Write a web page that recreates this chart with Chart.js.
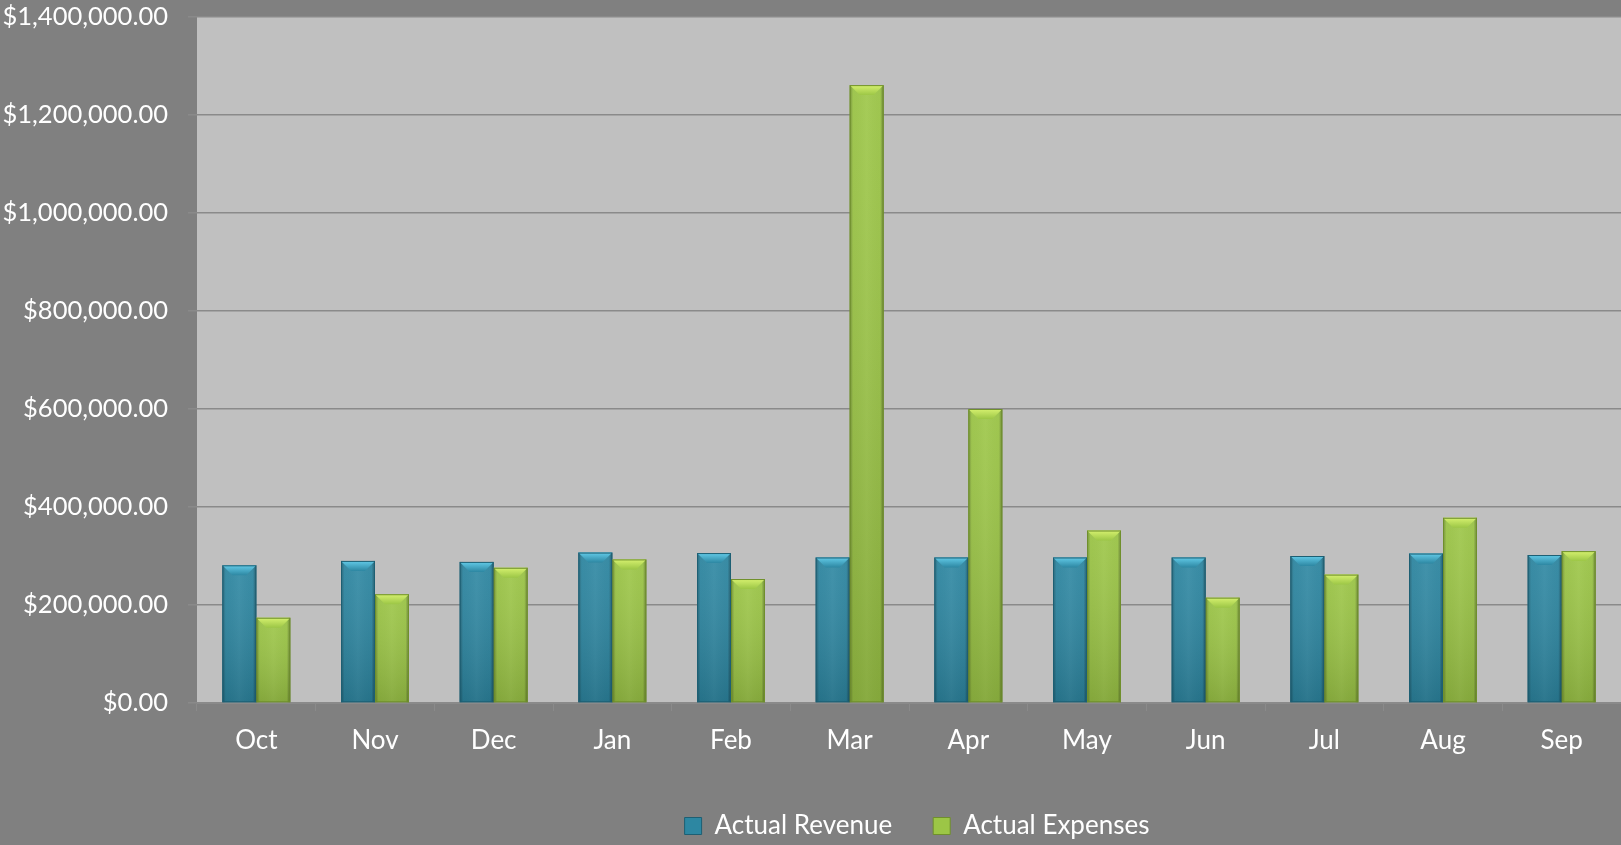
<!DOCTYPE html>
<html>
<head>
<meta charset="utf-8">
<title>Actual Revenue vs Actual Expenses</title>
<script src="https://cdn.jsdelivr.net/npm/chart.js@4/dist/chart.umd.min.js"></script>
<style>
  html, body { margin: 0; padding: 0; background: #808080; }
  #wrap { position: relative; width: 1621px; height: 845px; }
</style>
</head>
<body>
<div id="wrap"><canvas id="revenueChart"></canvas></div>
<script>
const months = ["Oct", "Nov", "Dec", "Jan", "Feb", "Mar", "Apr", "May", "Jun", "Jul", "Aug", "Sep"];
const actualRevenue = [281000, 290000, 288000, 307000, 306000, 297000, 297000, 297000, 297000, 300000, 305000, 302000];
const actualExpenses = [174000, 222000, 276000, 293000, 253000, 1261000, 600000, 352000, 215000, 262000, 378000, 310000];
const yTicks = [0, 200000, 400000, 600000, 800000, 1000000, 1200000, 1400000];

const barColors = ["#2d87a2", "#9cc646"];
const bevelColors = ["#63cbe8", "#d6f16f"];
const edgeColors = ["#1d5f73", "#6f8f2c"];

const money = v => "$" + v.toLocaleString("en-US", { minimumFractionDigits: 2, maximumFractionDigits: 2 });

// grey plot area behind the bars
const plotBackground = {
  id: "plotBackground",
  beforeDraw(chart) {
    const { ctx, chartArea: a } = chart;
    ctx.save();
    ctx.fillStyle = "#c0c0c0";
    ctx.fillRect(a.left, a.top, a.right - a.left, a.bottom - a.top);
    ctx.restore();
  }
};

// shaded sides and bevelled top on every bar
const barBevel = {
  id: "barBevel",
  afterDatasetsDraw(chart) {
    const ctx = chart.ctx;
    ctx.save();
    chart.data.datasets.forEach((ds, i) => {
      chart.getDatasetMeta(i).data.forEach(bar => {
        const { x, y, base, width } = bar.getProps(["x", "y", "base", "width"], true);
        const l = x - width / 2, r = x + width / 2, h = base - y;
        if (h <= 0) return;

        const side = ctx.createLinearGradient(l, 0, r, 0);
        side.addColorStop(0, "rgba(0,0,0,0.30)");
        side.addColorStop(0.1, "rgba(0,0,0,0.02)");
        side.addColorStop(0.5, "rgba(255,255,255,0.04)");
        side.addColorStop(0.9, "rgba(0,0,0,0.02)");
        side.addColorStop(1, "rgba(0,0,0,0.38)");
        ctx.fillStyle = side;
        ctx.fillRect(l, y, width, h);

        const down = ctx.createLinearGradient(0, y, 0, base);
        down.addColorStop(0, "rgba(255,255,255,0.06)");
        down.addColorStop(1, "rgba(0,0,0,0.14)");
        ctx.fillStyle = down;
        ctx.fillRect(l, y, width, h);

        const b = Math.min(10, h / 2);
        const top = ctx.createLinearGradient(0, y, 0, y + b);
        top.addColorStop(0, bevelColors[i]);
        top.addColorStop(1, barColors[i]);
        ctx.fillStyle = top;
        ctx.beginPath();
        ctx.moveTo(l, y);
        ctx.lineTo(r, y);
        ctx.lineTo(r - b, y + b);
        ctx.lineTo(l + b, y + b);
        ctx.closePath();
        ctx.fill();

        ctx.strokeStyle = edgeColors[i];
        ctx.lineWidth = 1;
        ctx.strokeRect(l + 0.5, y + 0.5, width - 1, h - 1);
      });
    });
    ctx.restore();
  }
};

// centre the legend under the plot area (nudged right and down a touch)
const legendUnderPlot = {
  id: "legendUnderPlot",
  afterLayout(chart) {
    const lg = chart.legend, a = chart.chartArea;
    const shift = (a.left + a.right) / 2 - (lg.left + lg.right) / 2 + 8;
    lg.left += shift;
    lg.right += shift;
    lg.top += 4;
    lg.bottom += 4;
  }
};

Chart.defaults.font.family = "Lato, 'Liberation Sans', sans-serif";
Chart.defaults.color = "#ffffff";

new Chart("revenueChart", {
  type: "bar",
  data: {
    labels: months,
    datasets: [
      {
        label: "Actual Revenue",
        data: actualRevenue,
        backgroundColor: barColors[0],
        borderWidth: 0
      },
      {
        label: "Actual Expenses",
        data: actualExpenses,
        backgroundColor: barColors[1],
        borderWidth: 0
      }
    ]
  },
  options: {
    responsive: true,
    maintainAspectRatio: false,
    animation: false,
    layout: { autoPadding: false, padding: 0 },
    datasets: {
      bar: { categoryPercentage: 0.573, barPercentage: 1.0 }
    },
    plugins: {
      legend: {
        position: "bottom",
        labels: {
          color: "#ffffff",
          font: { size: 26, lineHeight: 1 },
          boxWidth: 17,
          boxHeight: 17,
          padding: 41,
          generateLabels(chart) {
            return chart.data.datasets.map((ds, i) => ({
              text: ds.label,
              fillStyle: barColors[i],
              strokeStyle: edgeColors[i],
              lineWidth: 1,
              fontColor: "#ffffff",
              datasetIndex: i
            }));
          }
        }
      },
      tooltip: { enabled: false }
    },
    scales: {
      x: {
        afterFit(scale) {
          scale.height = 65;
        },
        grid: {
          display: true,
          drawOnChartArea: false,
          tickLength: 8,
          color: "#8a8a8a",
          offset: true
        },
        border: { display: true, color: "#8a8a8a", width: 1 },
        ticks: { color: "#ffffff", font: { size: 26 }, padding: 14 }
      },
      y: {
        min: 0,
        max: 1400000,
        afterBuildTicks(scale) {
          scale.ticks = yTicks.map(v => ({ value: v }));
        },
        afterFit(scale) {
          scale.width = 197;
          scale.paddingTop = 17;
          scale.paddingBottom = 0;
        },
        grid: {
          color: "#8a8a8a",
          lineWidth: 1.5,
          tickLength: 9
        },
        border: { display: false },
        ticks: {
          color: "#ffffff",
          font: { size: 25.5 },
          padding: 20,
          callback: v => money(v)
        }
      }
    }
  },
  plugins: [plotBackground, barBevel, legendUnderPlot]
});
</script>
</body>
</html>
